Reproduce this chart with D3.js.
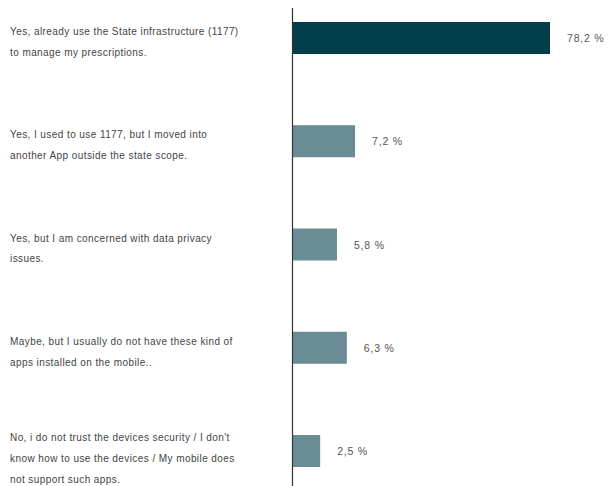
<!DOCTYPE html>
<html><head><meta charset="utf-8">
<script src="https://cdn.jsdelivr.net/npm/d3@7/dist/d3.min.js"></script>
<style>
body{margin:0;background:#fff;}
svg{display:block;font-family:"Liberation Sans",Arial,sans-serif;}
</style></head>
<body><svg id="c" width="612" height="486"></svg>
<script>
const categories = [
  ["Yes, already use the State infrastructure (1177)", "to manage my prescriptions."],
  ["Yes, I used to use 1177, but I moved into", "another App outside the state scope."],
  ["Yes, but I am concerned with data privacy", "issues."],
  ["Maybe, but I usually do not have these kind of", "apps installed on the mobile.."],
  ["No, i do not trust the devices security / I don't", "know how to use the devices / My mobile does", "not support such apps."]
];
const valueLabels = ["78,2 %", "7,2 %", "5,8 %", "6,3 %", "2,5 %"];
// bar lengths as drawn in the picture (not proportional to the printed labels)
const barValues = [78.2, 19.0, 13.5, 16.5, 8.4];
const barColors = ["#033e4b", "#6a8c94", "#6a8c94", "#6a8c94", "#6a8c94"];

const svg = d3.select("#c");
const ids = categories.map((d,i)=>i);
const x = d3.scaleLinear().domain([0, 78.2]).range([292.5, 550]);
const y = d3.scalePoint().domain(ids).range([38, 451]);
const barH = 32;

svg.selectAll("rect.bar").data(ids).enter().append("rect")
  .attr("x", x(0)).attr("y", i => y(i) - barH/2)
  .attr("width", i => x(barValues[i]) - x(0)).attr("height", barH)
  .attr("fill", i => barColors[i]);

svg.append("line").attr("x1", 292.5).attr("x2", 292.5).attr("y1", 8).attr("y2", 486)
  .attr("stroke", "#333").attr("stroke-width", 1.2);

svg.selectAll("text.val").data(ids).enter().append("text")
  .attr("x", i => x(barValues[i]) + 17).attr("y", i => y(i) + 4)
  .attr("font-size", 10.5).attr("fill", "#555").attr("letter-spacing", "0.8px")
  .text(i => valueLabels[i]);

const lab = svg.selectAll("g.lab").data(ids).enter().append("g")
  .attr("transform", i => `translate(10,${y(i) + 11 - 7*categories[i].length})`);
lab.selectAll("text").data(i => categories[i]).enter().append("text")
  .attr("y", (d,j) => j*20.8)
  .attr("font-size", 10).attr("fill", "#444").attr("letter-spacing", "0.42px")
  .text(d => d);
</script></body></html>
